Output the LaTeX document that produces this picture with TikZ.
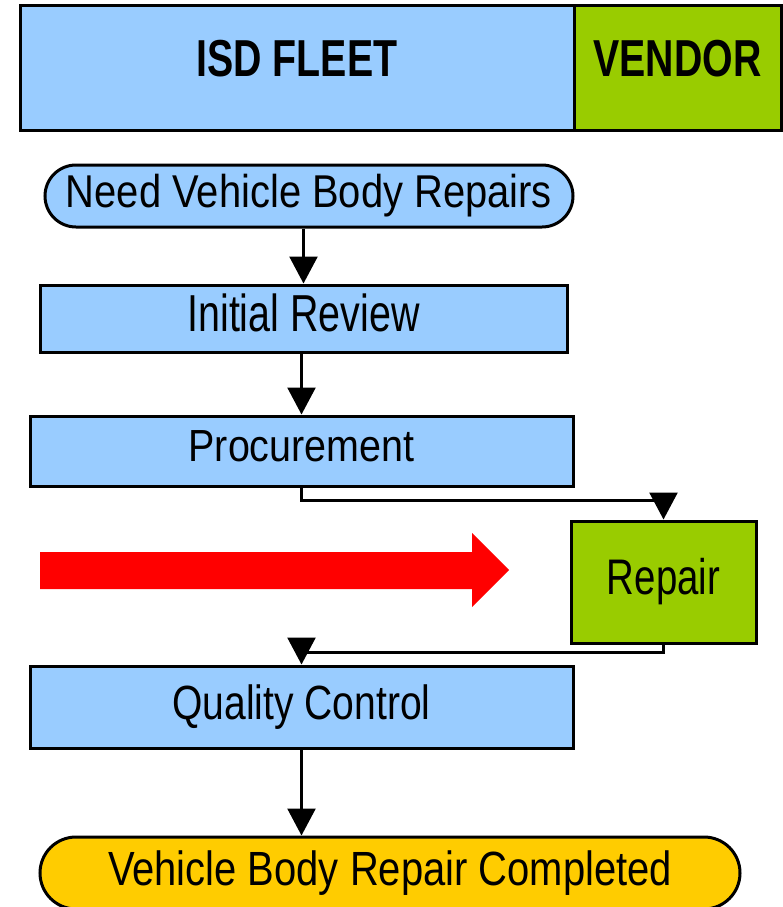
\documentclass[tikz,border=0pt]{standalone}
\usepackage{fontspec}
\usepackage{graphicx}
\setmainfont{Liberation Sans}
\usetikzlibrary{arrows.meta}
\definecolor{boxblue}{HTML}{99CCFF}
\definecolor{vgreen}{HTML}{99CC00}
\definecolor{endyellow}{HTML}{FFCC00}
\newcommand{\lbl}[3]{\fontsize{#2}{#2}\selectfont\vphantom{Ay}\scalebox{#1}[1]{#3}}
\begin{document}
\begin{tikzpicture}[x=1pt,y=-1pt,
  box/.style={draw=black, line width=3pt, inner sep=0pt, fill=boxblue},
  gbox/.style={box, fill=vgreen},
  conn/.style={line width=2.5pt, draw=black},
  tip/.style={-{Triangle[width=28pt,length=27pt]}}]
\useasboundingbox (0,0) rectangle (782,907);

% header
\node[box, minimum width=554pt, minimum height=124pt] (fleet) at (297,68) {};
\node[gbox, minimum width=207pt, minimum height=124pt] (vendor) at (677.5,68) {};
\node[inner sep=0pt] (fleetlbl) at (297,64) {\lbl{0.756}{52}{\bfseries ISD FLEET}};
\node[inner sep=0pt] (vendorlbl) at (677.5,64) {\lbl{0.755}{52}{\bfseries VENDOR}};

% flow
\node[box, rounded corners=31pt, minimum width=528pt, minimum height=62pt] (need) at (309,196)
  {\lbl{0.868}{46}{Need Vehicle Body Repairs}};
\node[box, minimum width=527pt, minimum height=67pt] (init) at (303.5,318.5)
  {\lbl{0.758}{52}{Initial Review}};
\node[box, minimum width=543pt, minimum height=70pt] (proc) at (301.5,451)
  {\lbl{0.877}{45}{Procurement}};
\node[gbox, minimum width=185pt, minimum height=122pt] (repair) at (663.5,582)
  {\lbl{0.768}{50}{Repair}};
\node[box, minimum width=543pt, minimum height=82pt] (qc) at (301.5,707)
  {\lbl{0.813}{48}{Quality Control}};
\node[box, fill=endyellow, rounded corners=36pt, minimum width=700pt, minimum height=72pt] (done) at (390,873)
  {\lbl{0.832}{48}{Vehicle Body Repair Completed}};

% red arrow
\fill[red] (40,552) -- (472,552) -- (472,533) -- (509,570) -- (472,607)
  -- (472,589) -- (40,589) -- cycle;

% connectors
\draw[conn, tip] (init.north |- need.south) -- (init.north);
\draw[conn, tip] (proc.north |- init.south) -- (proc.north);
\draw[conn, tip] (proc.south) -- ++(0,13) -| (repair.north);
\draw[conn, tip] (repair.south) -- ++(0,8) -| (qc.north);
\draw[conn, tip] (qc.south) -- (qc.south |- done.north);
\end{tikzpicture}
\end{document}
